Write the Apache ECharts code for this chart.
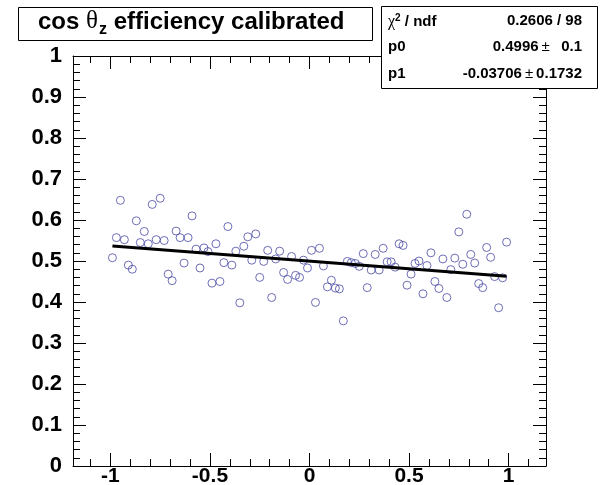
<!DOCTYPE html>
<html>
<head>
<meta charset="utf-8">
<title>cos theta_z efficiency calibrated</title>
<script src="https://cdn.jsdelivr.net/npm/echarts@6/dist/echarts.min.js"></script>
<style>
    html, body {margin: 0; padding: 0; background: #fff;}
    #main {width: 600px; height: 485px;}
</style>
</head>
<body>
<div id="main"></div>
<script>
    // bin centres of the graph
    var cosX = [
        -0.99, -0.97, -0.95, -0.93, -0.91, -0.89, -0.87, -0.85, -0.83, -0.81,
        -0.79, -0.77, -0.75, -0.73, -0.71, -0.69, -0.67, -0.65, -0.63, -0.61,
        -0.59, -0.57, -0.55, -0.53, -0.51, -0.49, -0.47, -0.45, -0.43, -0.41,
        -0.39, -0.37, -0.35, -0.33, -0.31, -0.29, -0.27, -0.25, -0.23, -0.21,
        -0.19, -0.17, -0.15, -0.13, -0.11, -0.09, -0.07, -0.05, -0.03, -0.01,
        0.01, 0.03, 0.05, 0.07, 0.09, 0.11, 0.13, 0.15, 0.17, 0.19,
        0.21, 0.23, 0.25, 0.27, 0.29, 0.31, 0.33, 0.35, 0.37, 0.39,
        0.41, 0.43, 0.45, 0.47, 0.49, 0.51, 0.53, 0.55, 0.57, 0.59,
        0.61, 0.63, 0.65, 0.67, 0.69, 0.71, 0.73, 0.75, 0.77, 0.79,
        0.81, 0.83, 0.85, 0.87, 0.89, 0.91, 0.93, 0.95, 0.97, 0.99
    ];
    // efficiency per bin
    var effY = [
        0.508, 0.557, 0.648, 0.552, 0.490, 0.480, 0.598, 0.545, 0.572, 0.542,
        0.638, 0.552, 0.653, 0.550, 0.468, 0.452, 0.573, 0.557, 0.495, 0.557,
        0.610, 0.529, 0.483, 0.532, 0.523, 0.446, 0.542, 0.450, 0.496, 0.584,
        0.490, 0.524, 0.398, 0.536, 0.559, 0.502, 0.566, 0.460, 0.499, 0.526,
        0.411, 0.505, 0.524, 0.472, 0.455, 0.511, 0.465, 0.460, 0.502, 0.483,
        0.526, 0.399, 0.531, 0.488, 0.437, 0.453, 0.434, 0.432, 0.354, 0.499,
        0.496, 0.494, 0.487, 0.518, 0.435, 0.478, 0.516, 0.478, 0.531, 0.498,
        0.498, 0.485, 0.542, 0.538, 0.441, 0.468, 0.494, 0.500, 0.420, 0.489,
        0.520, 0.450, 0.433, 0.505, 0.411, 0.479, 0.507, 0.571, 0.492, 0.614,
        0.516, 0.495, 0.445, 0.435, 0.533, 0.509, 0.462, 0.386, 0.459, 0.546
    ];
    // fitted line (pol1), end points
    var fitX = [-0.99, 0.99];
    var fitY = [0.5363, 0.4629];

    var xLabels = [-1, -0.5, 0, 0.5, 1];

    var statNames = ['chi', 'p0', 'p1'];
    var statValues = ['0.2606 / 98', '0.4996', '-0.03706'];
    var statErrors = ['', '  0.1', '0.1732'];

    var FONT = "'Liberation Sans', Arial, sans-serif";
    var SYM = "'Liberation Serif', 'DejaVu Serif', serif";

    var chart = echarts.init(document.getElementById('main'), null, {renderer: 'canvas'});

    // graph range: data range +- 10% like ROOT does
    var X_MIN = -1.188, X_MAX = 1.188;

    // split = how many nice steps ECharts should aim for (0.5 major, 0.1 minor)
    function xAxisDef(pos, split, len, showLine, showLabel) {
        return {
            type: 'value',
            position: pos,
            min: X_MIN,
            max: X_MAX,
            splitNumber: split,
            axisLine: {show: showLine, onZero: false, lineStyle: {color: '#000', width: 1}},
            axisTick: {show: true, inside: true, length: len, lineStyle: {color: '#000', width: 1}},
            axisLabel: {show: showLabel, customValues: xLabels, margin: 0, color: '#000',
                fontFamily: FONT, fontWeight: 'bold', fontSize: 21, lineHeight: 21},
            splitLine: {show: false}
        };
    }

    function yAxisDef(pos, showLabel) {
        return {
            type: 'value',
            position: pos,
            min: 0,
            max: 1,
            interval: 0.1,
            axisLine: {show: true, onZero: false, lineStyle: {color: '#000', width: 1}},
            axisTick: {show: true, inside: true, length: 13, lineStyle: {color: '#000', width: 1}},
            minorTick: {show: true, splitNumber: 5, length: 7, lineStyle: {color: '#000', width: 1}},
            axisLabel: {show: showLabel, margin: 11, color: '#000',
                fontFamily: FONT, fontWeight: 'bold', fontSize: 22},
            splitLine: {show: false},
            minorSplitLine: {show: false}
        };
    }

    // stats box text lines
    var statGraphics = [];
    var rowY = [22, 48, 75];
    var rich = {
        b: {fontFamily: FONT, fontWeight: 'bold', fontSize: 15, fill: '#000'},
        sym: {fontFamily: SYM, fontSize: 16, fill: '#000'},
        sup: {fontFamily: FONT, fontWeight: 'bold', fontSize: 10, fill: '#000', padding: [0, 0, 8, 0]},
        pm: {fontFamily: FONT, fontSize: 15, fill: '#000', padding: [0, 3, 0, 3]}
    };
    for (var i = 0; i < statNames.length; i++) {
        var left = statNames[i] == 'chi' ? '{sym|χ}{sup|2}{b| / ndf}' : '{b|' + statNames[i] + '}';
        var right = statErrors[i] === '' ? '{b|' + statValues[i] + '}'
            : '{b|' + statValues[i] + '}{pm|±}{b|' + statErrors[i].replace(/ /g, '\u00a0') + '}';
        statGraphics.push({type: 'text', z: 101, left: 388, top: rowY[i] - 9,
            style: {text: left, rich: rich}});
        statGraphics.push({type: 'text', z: 101, right: 18, top: rowY[i] - 9,
            style: {text: right, rich: rich}});
    }

    chart.setOption({
        animation: false,
        backgroundColor: '#fff',
        // fixed frame, labels may sit near the canvas edge
        grid: {left: 73, right: 54, top: 56, height: 410, containLabel: false, outerBoundsMode: 'none'},
        xAxis: [
            xAxisDef('bottom', 5, 13, true, true),
            xAxisDef('bottom', 24, 7, false, false),
            xAxisDef('top', 5, 13, true, false),
            xAxisDef('top', 24, 7, false, false)
        ],
        yAxis: [
            yAxisDef('left', true),
            yAxisDef('right', false)
        ],
        series: [
            {
                name: 'efficiency',
                type: 'scatter',
                symbol: 'circle',
                symbolSize: 8,
                itemStyle: {color: 'rgba(0,0,0,0)', borderColor: '#4a4aa4', borderWidth: 1},
                data: cosX.map(function (x, k) { return [x, effY[k]]; })
            },
            {
                name: 'fit',
                type: 'line',
                showSymbol: false,
                lineStyle: {color: '#000', width: 3},
                data: fitX.map(function (x, k) { return [x, fitY[k]]; })
            }
        ],
        graphic: [
            // title box
            {type: 'rect', z: 100, shape: {x: 18.5, y: 7.5, width: 354, height: 33},
                style: {fill: '#fff', stroke: '#000', lineWidth: 1}},
            {type: 'text', z: 101, left: 38, top: 9, style: {
                text: '{b|cos }{sym|θ}{sub|z}{b| efficiency calibrated}',
                rich: {
                    b: {fontFamily: FONT, fontWeight: 'bold', fontSize: 24, fill: '#000',
                        verticalAlign: 'bottom', padding: [0, 0, 4, 0]},
                    sym: {fontFamily: SYM, fontSize: 25, fill: '#000',
                        verticalAlign: 'bottom', padding: [0, 1, 4, 0]},
                    sub: {fontFamily: FONT, fontWeight: 'bold', fontSize: 16, fill: '#000',
                        verticalAlign: 'bottom', padding: [0, 0, 0, 0]}
                }
            }},
            // stats box
            {type: 'rect', z: 100, shape: {x: 381.5, y: 6.5, width: 216, height: 82},
                style: {fill: '#fff', stroke: '#000', lineWidth: 1}}
        ].concat(statGraphics)
    });
</script>
</body>
</html>
